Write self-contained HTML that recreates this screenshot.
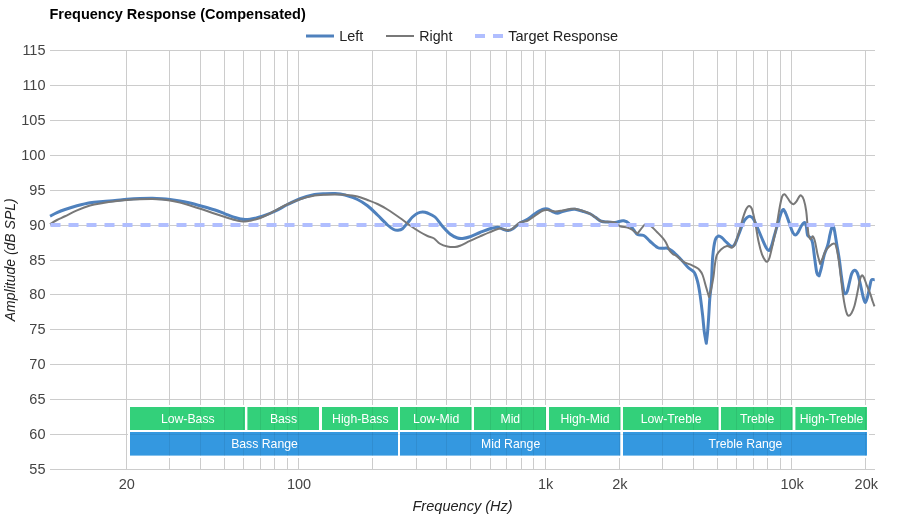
<!DOCTYPE html>
<html><head><meta charset="utf-8"><title>Frequency Response (Compensated)</title>
<style>
html,body{margin:0;padding:0;background:#fff;}
body{width:900px;height:520px;overflow:hidden;font-family:"Liberation Sans",Arial,sans-serif;}
svg{display:block}
text{font-family:"Liberation Sans",Arial,sans-serif;}
</style></head><body>
<svg width="900" height="520" viewBox="0 0 900 520">
<rect width="900" height="520" fill="#fff"/>
<text x="49.5" y="19" font-size="14.5" font-weight="bold" fill="#000">Frequency Response (Compensated)</text>
<g stroke="#ccc" stroke-width="1" shape-rendering="crispEdges"><line x1="126.5" y1="50" x2="126.5" y2="469.5"/><line x1="169.5" y1="50" x2="169.5" y2="469.5"/><line x1="200.5" y1="50" x2="200.5" y2="469.5"/><line x1="224.5" y1="50" x2="224.5" y2="469.5"/><line x1="243.5" y1="50" x2="243.5" y2="469.5"/><line x1="260.5" y1="50" x2="260.5" y2="469.5"/><line x1="274.5" y1="50" x2="274.5" y2="469.5"/><line x1="287.5" y1="50" x2="287.5" y2="469.5"/><line x1="298.5" y1="50" x2="298.5" y2="469.5"/><line x1="372.5" y1="50" x2="372.5" y2="469.5"/><line x1="416.5" y1="50" x2="416.5" y2="469.5"/><line x1="446.5" y1="50" x2="446.5" y2="469.5"/><line x1="470.5" y1="50" x2="470.5" y2="469.5"/><line x1="490.5" y1="50" x2="490.5" y2="469.5"/><line x1="506.5" y1="50" x2="506.5" y2="469.5"/><line x1="521.5" y1="50" x2="521.5" y2="469.5"/><line x1="533.5" y1="50" x2="533.5" y2="469.5"/><line x1="545.5" y1="50" x2="545.5" y2="469.5"/><line x1="619.5" y1="50" x2="619.5" y2="469.5"/><line x1="662.5" y1="50" x2="662.5" y2="469.5"/><line x1="693.5" y1="50" x2="693.5" y2="469.5"/><line x1="717.5" y1="50" x2="717.5" y2="469.5"/><line x1="736.5" y1="50" x2="736.5" y2="469.5"/><line x1="753.5" y1="50" x2="753.5" y2="469.5"/><line x1="767.5" y1="50" x2="767.5" y2="469.5"/><line x1="780.5" y1="50" x2="780.5" y2="469.5"/><line x1="791.5" y1="50" x2="791.5" y2="469.5"/><line x1="865.5" y1="50" x2="865.5" y2="469.5"/><line x1="50" y1="50.5" x2="875" y2="50.5"/><line x1="50" y1="85.5" x2="875" y2="85.5"/><line x1="50" y1="120.5" x2="875" y2="120.5"/><line x1="50" y1="155.5" x2="875" y2="155.5"/><line x1="50" y1="190.5" x2="875" y2="190.5"/><line x1="50" y1="225.5" x2="875" y2="225.5"/><line x1="50" y1="260.5" x2="875" y2="260.5"/><line x1="50" y1="294.5" x2="875" y2="294.5"/><line x1="50" y1="329.5" x2="875" y2="329.5"/><line x1="50" y1="364.5" x2="875" y2="364.5"/><line x1="50" y1="399.5" x2="875" y2="399.5"/><line x1="50" y1="434.5" x2="875" y2="434.5"/><line x1="50" y1="469.5" x2="875" y2="469.5"/></g>
<rect x="128" y="405" width="741" height="53" fill="#fff"/>
<line x1="126.5" y1="400" x2="126.5" y2="469" stroke="#ccc"/>
<g><rect x="130.0" y="407" width="115.0" height="23" fill="#33d07a"/><rect x="247.4" y="407" width="71.6" height="23" fill="#33d07a"/><rect x="322.0" y="407" width="76.0" height="23" fill="#33d07a"/><rect x="400.0" y="407" width="71.6" height="23" fill="#33d07a"/><rect x="474.0" y="407" width="72.0" height="23" fill="#33d07a"/><rect x="549.0" y="407" width="71.5" height="23" fill="#33d07a"/><rect x="623.0" y="407" width="95.6" height="23" fill="#33d07a"/><rect x="721.0" y="407" width="71.6" height="23" fill="#33d07a"/><rect x="795.4" y="407" width="71.6" height="23" fill="#33d07a"/><rect x="130.0" y="432" width="268.0" height="23.6" fill="#3498e0"/><rect x="400.0" y="432" width="220.3" height="23.6" fill="#3498e0"/><rect x="623.0" y="432" width="244.0" height="23.6" fill="#3498e0"/></g>
<g stroke="#000" stroke-opacity="0.07" stroke-width="1" shape-rendering="crispEdges"><line x1="169.5" y1="407" x2="169.5" y2="430"/><line x1="169.5" y1="432" x2="169.5" y2="455.6"/><line x1="200.5" y1="407" x2="200.5" y2="430"/><line x1="200.5" y1="432" x2="200.5" y2="455.6"/><line x1="224.5" y1="407" x2="224.5" y2="430"/><line x1="224.5" y1="432" x2="224.5" y2="455.6"/><line x1="243.5" y1="407" x2="243.5" y2="430"/><line x1="243.5" y1="432" x2="243.5" y2="455.6"/><line x1="260.5" y1="407" x2="260.5" y2="430"/><line x1="260.5" y1="432" x2="260.5" y2="455.6"/><line x1="274.5" y1="407" x2="274.5" y2="430"/><line x1="274.5" y1="432" x2="274.5" y2="455.6"/><line x1="287.5" y1="407" x2="287.5" y2="430"/><line x1="287.5" y1="432" x2="287.5" y2="455.6"/><line x1="298.5" y1="407" x2="298.5" y2="430"/><line x1="298.5" y1="432" x2="298.5" y2="455.6"/><line x1="372.5" y1="407" x2="372.5" y2="430"/><line x1="372.5" y1="432" x2="372.5" y2="455.6"/><line x1="416.5" y1="407" x2="416.5" y2="430"/><line x1="416.5" y1="432" x2="416.5" y2="455.6"/><line x1="446.5" y1="407" x2="446.5" y2="430"/><line x1="446.5" y1="432" x2="446.5" y2="455.6"/><line x1="470.5" y1="407" x2="470.5" y2="430"/><line x1="470.5" y1="432" x2="470.5" y2="455.6"/><line x1="490.5" y1="407" x2="490.5" y2="430"/><line x1="490.5" y1="432" x2="490.5" y2="455.6"/><line x1="506.5" y1="407" x2="506.5" y2="430"/><line x1="506.5" y1="432" x2="506.5" y2="455.6"/><line x1="521.5" y1="407" x2="521.5" y2="430"/><line x1="521.5" y1="432" x2="521.5" y2="455.6"/><line x1="533.5" y1="407" x2="533.5" y2="430"/><line x1="533.5" y1="432" x2="533.5" y2="455.6"/><line x1="545.5" y1="407" x2="545.5" y2="430"/><line x1="545.5" y1="432" x2="545.5" y2="455.6"/><line x1="619.5" y1="407" x2="619.5" y2="430"/><line x1="619.5" y1="432" x2="619.5" y2="455.6"/><line x1="662.5" y1="407" x2="662.5" y2="430"/><line x1="662.5" y1="432" x2="662.5" y2="455.6"/><line x1="693.5" y1="407" x2="693.5" y2="430"/><line x1="693.5" y1="432" x2="693.5" y2="455.6"/><line x1="717.5" y1="407" x2="717.5" y2="430"/><line x1="717.5" y1="432" x2="717.5" y2="455.6"/><line x1="736.5" y1="407" x2="736.5" y2="430"/><line x1="736.5" y1="432" x2="736.5" y2="455.6"/><line x1="753.5" y1="407" x2="753.5" y2="430"/><line x1="753.5" y1="432" x2="753.5" y2="455.6"/><line x1="767.5" y1="407" x2="767.5" y2="430"/><line x1="767.5" y1="432" x2="767.5" y2="455.6"/><line x1="780.5" y1="407" x2="780.5" y2="430"/><line x1="780.5" y1="432" x2="780.5" y2="455.6"/><line x1="791.5" y1="407" x2="791.5" y2="430"/><line x1="791.5" y1="432" x2="791.5" y2="455.6"/><line x1="865.5" y1="407" x2="865.5" y2="430"/><line x1="865.5" y1="432" x2="865.5" y2="455.6"/><line x1="130" y1="434.5" x2="867" y2="434.5"/></g>
<g font-size="12.25" fill="#fff" text-anchor="middle"><text x="187.8" y="423.1">Low-Bass</text><text x="283.5" y="423.1">Bass</text><text x="360.3" y="423.1">High-Bass</text><text x="436.1" y="423.1">Low-Mid</text><text x="510.3" y="423.1">Mid</text><text x="585.0" y="423.1">High-Mid</text><text x="671.1" y="423.1">Low-Treble</text><text x="757.1" y="423.1">Treble</text><text x="831.5" y="423.1">High-Treble</text><text x="264.5" y="448.1">Bass Range</text><text x="510.6" y="448.1">Mid Range</text><text x="745.5" y="448.1">Treble Range</text></g>
<g font-size="14.5" fill="#444"><text x="45.5" y="55.1" text-anchor="end">115</text><text x="45.5" y="90.1" text-anchor="end">110</text><text x="45.5" y="125.1" text-anchor="end">105</text><text x="45.5" y="160.1" text-anchor="end">100</text><text x="45.5" y="195.1" text-anchor="end">95</text><text x="45.5" y="230.1" text-anchor="end">90</text><text x="45.5" y="265.1" text-anchor="end">85</text><text x="45.5" y="299.1" text-anchor="end">80</text><text x="45.5" y="334.1" text-anchor="end">75</text><text x="45.5" y="369.1" text-anchor="end">70</text><text x="45.5" y="404.1" text-anchor="end">65</text><text x="45.5" y="439.1" text-anchor="end">60</text><text x="45.5" y="474.1" text-anchor="end">55</text><text x="126.8" y="489" text-anchor="middle">20</text><text x="299.1" y="489" text-anchor="middle">100</text><text x="545.6" y="489" text-anchor="middle">1k</text><text x="619.8" y="489" text-anchor="middle">2k</text><text x="792.1" y="489" text-anchor="middle">10k</text><text x="866.3" y="489" text-anchor="middle">20k</text></g>
<path d="M50.00,216.20C51.17,215.60 54.50,213.72 57.00,212.60C59.50,211.48 61.67,210.63 65.00,209.50C68.33,208.37 72.83,206.93 77.00,205.80C81.17,204.68 85.67,203.48 90.00,202.75C94.33,202.02 98.83,201.78 103.00,201.40C107.17,201.03 111.00,200.85 115.00,200.50C119.00,200.15 122.83,199.63 127.00,199.30C131.17,198.97 135.75,198.68 140.00,198.50C144.25,198.32 148.83,198.22 152.50,198.25C156.17,198.28 159.08,198.49 162.00,198.70C164.92,198.91 167.00,199.12 170.00,199.50C173.00,199.88 176.67,200.42 180.00,201.00C183.33,201.58 186.33,202.13 190.00,203.00C193.67,203.87 197.83,205.03 202.00,206.20C206.17,207.37 211.17,208.73 215.00,210.00C218.83,211.27 221.67,212.55 225.00,213.80C228.33,215.05 232.33,216.63 235.00,217.50C237.67,218.37 239.33,218.67 241.00,219.00C242.67,219.33 243.50,219.47 245.00,219.50C246.50,219.53 248.33,219.41 250.00,219.20C251.67,218.99 252.92,218.74 255.00,218.25C257.08,217.76 259.17,217.42 262.50,216.25C265.83,215.08 270.83,213.21 275.00,211.25C279.17,209.29 283.33,206.58 287.50,204.50C291.67,202.42 295.83,200.33 300.00,198.75C304.17,197.17 308.33,195.83 312.50,195.00C316.67,194.17 321.25,194.00 325.00,193.75C328.75,193.50 331.67,193.29 335.00,193.50C338.33,193.71 341.25,194.00 345.00,195.00C348.75,196.00 353.75,197.71 357.50,199.50C361.25,201.29 364.17,203.17 367.50,205.75C370.83,208.33 374.17,211.79 377.50,215.00C380.83,218.21 384.79,222.58 387.50,225.00C390.21,227.42 392.00,228.62 393.75,229.50C395.50,230.38 396.54,230.38 398.00,230.25C399.46,230.12 400.92,229.96 402.50,228.75C404.08,227.54 405.83,224.96 407.50,223.00C409.17,221.04 410.83,218.62 412.50,217.00C414.17,215.38 415.83,214.08 417.50,213.25C419.17,212.42 420.83,212.04 422.50,212.00C424.17,211.96 425.42,212.17 427.50,213.00C429.58,213.83 432.50,214.79 435.00,217.00C437.50,219.21 440.00,223.42 442.50,226.25C445.00,229.08 447.50,232.04 450.00,234.00C452.50,235.96 455.42,237.25 457.50,238.00C459.58,238.75 460.42,238.71 462.50,238.50C464.58,238.29 467.08,237.75 470.00,236.75C472.92,235.75 476.67,233.83 480.00,232.50C483.33,231.17 487.08,229.62 490.00,228.75C492.92,227.88 495.42,227.21 497.50,227.25C499.58,227.29 500.83,228.46 502.50,229.00C504.17,229.54 505.83,230.50 507.50,230.50C509.17,230.50 510.42,230.25 512.50,229.00C514.58,227.75 517.50,224.62 520.00,223.00C522.50,221.38 525.00,220.79 527.50,219.25C530.00,217.71 532.50,215.38 535.00,213.75C537.50,212.12 540.42,210.29 542.50,209.50C544.58,208.71 545.83,208.67 547.50,209.00C549.17,209.33 550.83,210.79 552.50,211.50C554.17,212.21 555.83,213.25 557.50,213.25C559.17,213.25 560.42,212.08 562.50,211.50C564.58,210.92 567.92,210.12 570.00,209.75C572.08,209.38 572.92,209.00 575.00,209.25C577.08,209.50 580.00,210.50 582.50,211.25C585.00,212.00 587.92,212.79 590.00,213.75C592.08,214.71 593.12,215.75 595.00,217.00C596.88,218.25 599.17,220.42 601.25,221.25C603.33,222.08 605.21,221.79 607.50,222.00C609.79,222.21 612.92,222.62 615.00,222.50C617.08,222.38 618.54,221.54 620.00,221.25C621.46,220.96 622.29,220.42 623.75,220.75C625.21,221.08 627.08,221.71 628.75,223.25C630.42,224.79 632.29,228.12 633.75,230.00C635.21,231.88 635.83,233.58 637.50,234.50C639.17,235.42 641.67,234.38 643.75,235.50C645.83,236.62 647.71,239.25 650.00,241.25C652.29,243.25 655.42,246.33 657.50,247.50C659.58,248.67 660.83,248.12 662.50,248.25C664.17,248.38 665.83,247.75 667.50,248.25C669.17,248.75 671.25,250.38 672.50,251.25C673.75,252.12 673.47,252.01 675.00,253.50C676.53,254.99 679.47,257.82 681.70,260.20C683.93,262.58 686.30,265.75 688.40,267.80C690.50,269.85 692.77,270.18 694.30,272.50C695.83,274.82 696.63,277.93 697.60,281.70C698.57,285.47 699.27,289.52 700.10,295.10C700.93,300.68 701.90,309.07 702.60,315.20C703.30,321.33 703.68,327.22 704.30,331.90C704.92,336.58 705.97,341.40 706.30,343.30C706.52,341.40 707.18,336.58 707.60,331.90C708.02,327.22 708.43,320.78 708.80,315.20C709.17,309.62 709.35,303.98 709.80,298.40C710.25,292.82 711.02,288.62 711.50,281.70C711.98,274.78 712.08,263.82 712.70,256.90C713.32,249.98 714.23,243.68 715.20,240.20C716.17,236.72 717.38,236.42 718.50,236.00C719.62,235.58 720.50,236.58 721.90,237.70C723.30,238.82 725.23,241.23 726.90,242.70C728.57,244.17 730.52,246.37 731.90,246.50C733.28,246.63 733.95,245.82 735.20,243.50C736.45,241.18 738.00,236.22 739.40,232.60C740.80,228.98 742.35,224.30 743.60,221.80C744.85,219.30 745.78,218.50 746.90,217.60C748.02,216.70 749.18,216.12 750.30,216.40C751.42,216.68 752.35,217.28 753.60,219.30C754.85,221.32 756.40,225.30 757.80,228.50C759.20,231.70 760.60,235.30 762.00,238.50C763.40,241.70 765.08,245.70 766.20,247.70C767.32,249.70 767.87,250.63 768.70,250.50C769.53,250.37 770.23,249.45 771.20,246.90C772.17,244.35 773.38,239.12 774.50,235.20C775.62,231.28 776.78,227.17 777.90,223.40C779.02,219.63 780.28,214.92 781.20,212.60C782.12,210.28 782.57,209.18 783.40,209.50C784.23,209.82 785.17,212.08 786.20,214.50C787.23,216.92 788.48,220.98 789.60,224.00C790.72,227.02 791.93,230.78 792.90,232.60C793.87,234.42 794.57,234.90 795.40,234.90C796.23,234.90 796.92,234.08 797.90,232.60C798.88,231.12 800.18,227.67 801.30,226.00C802.42,224.33 803.77,222.57 804.60,222.60C805.43,222.63 805.82,224.15 806.30,226.20C806.78,228.25 806.82,232.97 807.50,234.90C808.18,236.83 809.55,236.45 810.40,237.80C811.25,239.15 811.87,239.40 812.60,243.00C813.33,246.60 814.08,254.37 814.80,259.40C815.52,264.43 816.18,270.47 816.90,273.20C817.62,275.93 818.73,275.37 819.10,275.80C819.47,274.52 820.45,271.55 821.30,268.10C822.15,264.65 823.12,258.95 824.20,255.10C825.28,251.25 826.85,248.37 827.80,245.00C828.75,241.63 829.23,237.78 829.90,234.90C830.57,232.02 831.18,229.02 831.80,227.70C832.42,226.38 833.07,226.05 833.60,227.00C834.13,227.95 834.48,230.57 835.00,233.40C835.52,236.23 835.98,239.67 836.70,244.00C837.42,248.33 838.50,253.93 839.30,259.40C840.10,264.87 840.77,271.50 841.50,276.80C842.23,282.10 843.10,288.37 843.70,291.20C844.30,294.03 844.50,293.80 845.10,293.80C845.70,293.80 846.58,293.07 847.30,291.20C848.02,289.33 848.68,285.48 849.40,282.60C850.12,279.72 850.75,275.95 851.60,273.90C852.45,271.85 853.53,270.42 854.50,270.30C855.47,270.18 856.43,270.92 857.40,273.20C858.37,275.48 859.33,280.03 860.30,284.00C861.27,287.97 862.37,293.92 863.20,297.00C864.03,300.08 864.58,302.50 865.30,302.50C866.02,302.50 866.77,299.60 867.50,297.00C868.23,294.40 869.05,289.73 869.70,286.90C870.35,284.07 870.57,281.20 871.40,280.00C872.23,278.80 874.15,279.75 874.70,279.70" fill="none" stroke="#4f81bd" stroke-width="3" stroke-linejoin="round"/>
<path d="M50.00,224.20C51.17,223.50 54.50,221.32 57.00,220.00C59.50,218.68 61.67,217.87 65.00,216.25C68.33,214.63 72.83,212.09 77.00,210.30C81.17,208.51 85.67,206.72 90.00,205.50C94.33,204.28 98.83,203.71 103.00,203.00C107.17,202.29 111.00,201.75 115.00,201.25C119.00,200.75 122.83,200.33 127.00,200.00C131.17,199.67 135.75,199.42 140.00,199.25C144.25,199.08 148.83,198.96 152.50,199.00C156.17,199.04 159.08,199.25 162.00,199.50C164.92,199.75 167.00,199.98 170.00,200.50C173.00,201.02 176.67,201.77 180.00,202.60C183.33,203.43 186.33,204.38 190.00,205.50C193.67,206.62 197.83,207.93 202.00,209.30C206.17,210.68 211.17,212.47 215.00,213.75C218.83,215.03 221.67,215.96 225.00,217.00C228.33,218.04 232.33,219.30 235.00,220.00C237.67,220.70 239.33,220.95 241.00,221.20C242.67,221.45 243.50,221.57 245.00,221.50C246.50,221.43 248.33,221.07 250.00,220.75C251.67,220.43 252.92,220.22 255.00,219.60C257.08,218.97 259.17,218.47 262.50,217.00C265.83,215.53 270.83,212.88 275.00,210.75C279.17,208.62 283.33,206.17 287.50,204.25C291.67,202.33 295.83,200.62 300.00,199.25C304.17,197.88 308.33,196.75 312.50,196.00C316.67,195.25 321.25,195.00 325.00,194.75C328.75,194.50 331.67,194.50 335.00,194.50C338.33,194.50 341.25,194.42 345.00,194.75C348.75,195.08 353.75,195.62 357.50,196.50C361.25,197.38 364.17,198.75 367.50,200.00C370.83,201.25 374.17,202.42 377.50,204.00C380.83,205.58 383.75,207.17 387.50,209.50C391.25,211.83 396.25,215.33 400.00,218.00C403.75,220.67 406.67,223.17 410.00,225.50C413.33,227.83 417.08,230.25 420.00,232.00C422.92,233.75 425.21,234.96 427.50,236.00C429.79,237.04 431.67,236.96 433.75,238.25C435.83,239.54 437.71,242.38 440.00,243.75C442.29,245.12 445.00,245.96 447.50,246.50C450.00,247.04 452.92,247.12 455.00,247.00C457.08,246.88 457.50,246.77 460.00,245.75C462.50,244.73 466.67,242.46 470.00,240.90C473.33,239.34 476.67,237.87 480.00,236.40C483.33,234.93 486.67,233.40 490.00,232.10C493.33,230.80 497.08,228.91 500.00,228.60C502.92,228.29 505.42,230.22 507.50,230.25C509.58,230.28 510.42,230.04 512.50,228.75C514.58,227.46 517.50,223.83 520.00,222.50C522.50,221.17 525.00,221.88 527.50,220.75C530.00,219.62 532.50,217.42 535.00,215.75C537.50,214.08 540.42,211.71 542.50,210.75C544.58,209.79 545.42,209.88 547.50,210.00C549.58,210.12 552.50,211.42 555.00,211.50C557.50,211.58 560.00,210.92 562.50,210.50C565.00,210.08 567.92,209.29 570.00,209.00C572.08,208.71 572.92,208.46 575.00,208.75C577.08,209.04 580.00,209.92 582.50,210.75C585.00,211.58 587.92,212.71 590.00,213.75C592.08,214.79 593.12,215.75 595.00,217.00C596.88,218.25 599.17,220.46 601.25,221.25C603.33,222.04 605.21,221.54 607.50,221.75C609.79,221.96 612.92,221.75 615.00,222.50C617.08,223.25 617.92,225.42 620.00,226.25C622.08,227.08 625.42,226.88 627.50,227.50C629.58,228.12 630.83,228.96 632.50,230.00C634.17,231.04 636.67,233.12 637.50,233.75C638.75,232.21 642.92,225.84 645.00,224.50C647.08,223.16 648.83,225.28 650.00,225.70C651.17,226.12 650.83,225.95 652.00,227.00C653.17,228.05 655.33,230.30 657.00,232.00C658.67,233.70 660.58,235.57 662.00,237.20C663.42,238.83 664.50,240.17 665.50,241.80C666.50,243.43 667.25,245.42 668.00,247.00C668.75,248.58 669.17,250.10 670.00,251.30C670.83,252.50 671.88,253.40 673.00,254.20C674.12,255.00 674.97,254.82 676.70,256.10C678.43,257.38 681.17,260.52 683.40,261.90C685.63,263.28 688.15,263.57 690.10,264.40C692.05,265.23 693.57,266.02 695.10,266.90C696.63,267.78 698.05,268.35 699.30,269.70C700.55,271.05 701.48,272.17 702.60,275.00C703.72,277.83 704.93,283.03 706.00,286.70C707.07,290.37 708.50,295.28 709.00,297.00C709.33,295.83 710.25,293.38 711.00,290.00C711.75,286.62 712.87,280.82 713.50,276.70C714.13,272.58 714.25,268.88 714.80,265.30C715.35,261.72 715.77,257.85 716.80,255.20C717.83,252.55 719.32,250.93 721.00,249.40C722.68,247.87 725.08,246.28 726.90,246.00C728.72,245.72 730.52,248.12 731.90,247.70C733.28,247.28 733.95,246.28 735.20,243.50C736.45,240.72 738.13,235.18 739.40,231.00C740.67,226.82 741.68,222.03 742.80,218.40C743.92,214.77 745.05,211.28 746.10,209.20C747.15,207.12 748.12,205.90 749.10,205.90C750.08,205.90 750.97,206.28 752.00,209.20C753.03,212.12 754.20,217.97 755.30,223.40C756.40,228.83 757.48,236.63 758.60,241.80C759.72,246.97 760.88,251.27 762.00,254.40C763.12,257.53 764.42,259.40 765.30,260.60C766.18,261.80 766.60,262.08 767.30,261.60C768.00,261.12 768.57,260.72 769.50,257.70C770.43,254.68 771.78,248.37 772.90,243.50C774.02,238.63 775.10,234.35 776.20,228.50C777.30,222.65 778.52,213.70 779.50,208.40C780.48,203.10 781.27,199.07 782.10,196.70C782.93,194.33 783.58,193.98 784.50,194.20C785.42,194.42 786.57,196.62 787.60,198.00C788.63,199.38 789.70,201.47 790.70,202.50C791.70,203.53 792.63,204.40 793.60,204.20C794.57,204.00 795.55,202.58 796.50,201.30C797.45,200.02 798.52,197.47 799.30,196.50C800.08,195.53 800.45,194.97 801.20,195.50C801.95,196.03 802.97,197.12 803.80,199.70C804.63,202.28 805.57,206.58 806.20,211.00C806.83,215.42 807.18,222.10 807.60,226.20C808.02,230.30 808.18,233.43 808.70,235.60C809.22,237.77 810.05,239.08 810.70,239.20C811.35,239.32 811.92,236.05 812.60,236.30C813.28,236.55 814.15,238.58 814.80,240.70C815.45,242.82 816.02,246.60 816.50,249.00C816.98,251.40 817.10,252.60 817.70,255.10C818.30,257.60 819.70,262.52 820.10,264.00C820.53,263.00 821.78,260.20 822.70,258.00C823.62,255.80 824.52,252.73 825.60,250.80C826.68,248.87 827.83,247.60 829.20,246.40C830.57,245.20 832.67,243.67 833.80,243.60C834.93,243.53 835.20,243.37 836.00,246.00C836.80,248.63 837.80,254.27 838.60,259.40C839.40,264.53 840.08,271.02 840.80,276.80C841.52,282.58 842.18,289.05 842.90,294.10C843.62,299.15 844.42,303.78 845.10,307.10C845.78,310.42 846.40,312.55 847.00,314.00C847.60,315.45 847.93,315.98 848.70,315.80C849.47,315.62 850.63,314.58 851.60,312.90C852.57,311.22 853.53,309.07 854.50,305.70C855.47,302.33 856.55,296.80 857.40,292.70C858.25,288.60 858.88,283.95 859.60,281.10C860.32,278.25 860.98,276.20 861.70,275.60C862.42,275.00 863.05,275.87 863.90,277.50C864.75,279.13 865.72,282.63 866.80,285.40C867.88,288.17 869.43,291.45 870.40,294.10C871.37,296.75 871.92,299.25 872.60,301.30C873.28,303.35 874.18,305.55 874.50,306.40" fill="none" stroke="#787878" stroke-width="2" stroke-linejoin="round"/>
<line x1="50.5" y1="224.9" x2="871" y2="224.9" stroke="#b0beff" stroke-width="4" stroke-dasharray="10,8"/>
<line x1="306" y1="36" x2="334" y2="36" stroke="#4f81bd" stroke-width="3"/>
<text x="339.3" y="40.6" font-size="14.4" fill="#222">Left</text>
<line x1="386" y1="36" x2="414" y2="36" stroke="#787878" stroke-width="2"/>
<text x="419.3" y="40.6" font-size="14.2" fill="#222">Right</text>
<line x1="475" y1="36" x2="503" y2="36" stroke="#b0beff" stroke-width="4" stroke-dasharray="10,8"/>
<text x="508.2" y="40.6" font-size="14.55" fill="#222">Target Response</text>
<text x="462.6" y="511" font-size="14.55" font-style="italic" fill="#222" text-anchor="middle">Frequency (Hz)</text>
<text transform="translate(15,259.8) rotate(-90)" font-size="14" font-style="italic" fill="#222" text-anchor="middle">Amplitude (dB SPL)</text>
</svg>
</body></html>
